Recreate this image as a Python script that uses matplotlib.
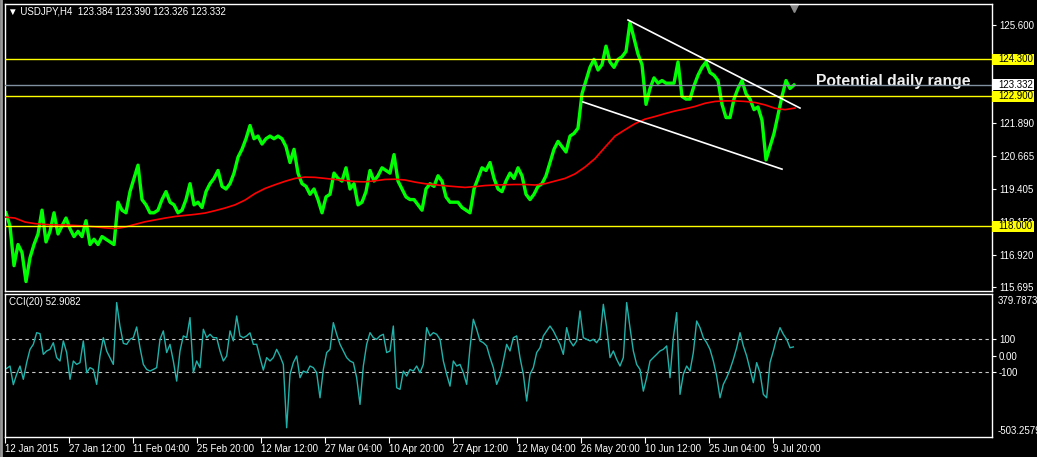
import numpy as np
import matplotlib
matplotlib.use("Agg")
import matplotlib.pyplot as plt
from matplotlib.transforms import blended_transform_factory
from matplotlib.lines import Line2D
from matplotlib.patches import Rectangle

W, H = 1037, 457
plt.rcParams['font.family'] = ['Liberation Sans', 'DejaVu Sans']

# ---- data: x is the bar number of the H4 chart (first bar = 6) ----
close_step = 4
close = [
    118.5, 118.0, 116.5, 117.3, 117.0, 115.9, 116.8, 117.3, 117.7, 118.6,
    117.4, 117.8, 118.5, 117.7, 118.0, 118.3, 117.9, 117.6, 117.8, 117.6,
    118.2, 117.3, 117.5, 117.3, 117.6, 117.5, 117.4, 117.3, 118.9, 118.6,
    118.5, 119.3, 119.8, 120.3, 119.0, 118.8, 118.5, 118.5, 118.6, 119.0,
    119.3, 118.9, 118.8, 118.5, 118.6, 119.0, 119.6, 118.8, 118.9, 118.7,
    119.3, 119.6, 119.8, 120.1, 119.5, 119.4, 119.6, 120.0, 120.6, 120.9,
    121.3, 121.8, 121.3, 121.4, 121.1, 121.3, 121.4, 121.3, 121.4, 121.3,
    121.0, 120.4, 120.9, 120.0, 119.6, 119.5, 119.2, 119.4, 119.0, 118.5,
    119.1, 119.2, 120.0, 119.8, 119.7, 120.2, 119.4, 119.6, 118.8, 118.9,
    119.3, 120.1, 119.7, 119.9, 120.2, 120.1, 120.0, 120.7, 119.7, 119.4,
    119.1, 119.0, 119.0, 118.8, 118.6, 119.4, 119.6, 119.5, 119.9, 119.7,
    119.1, 118.9, 118.9, 118.9, 118.7, 118.6, 118.5, 119.4, 119.8, 120.2,
    120.1, 120.4, 119.8, 119.4, 119.3, 119.7, 120.0, 119.8, 120.2, 119.9,
    119.2, 119.0, 119.2, 119.5, 119.6, 119.9, 120.4, 120.9, 121.2, 121.0,
    120.8, 121.4, 121.5, 121.7, 123.0, 123.5, 124.0, 124.3, 123.9, 124.1,
    124.8, 124.2, 124.0, 124.3, 124.4, 124.6, 125.7, 125.1, 124.5, 124.1,
    122.6, 123.2, 123.6, 123.4, 123.5, 123.4, 123.4, 123.4, 124.2, 122.9,
    122.8, 122.8, 123.3, 123.7, 124.0, 124.2, 123.8, 123.7, 123.5, 122.6,
    122.1, 122.1, 122.8, 123.2, 123.5, 123.0, 122.8, 122.4, 122.5, 122.0,
    120.5, 121.0, 121.5, 122.2, 122.9, 123.5, 123.2, 123.33,
]

ma_first, ma_step = 5, 10
ma = [
    118.34, 118.30, 118.15, 118.09, 118.06, 118.04, 118.04, 118.02, 118.00, 117.97,
    117.93, 117.90, 117.96, 118.06, 118.16, 118.23, 118.30, 118.36, 118.40, 118.44,
    118.49, 118.58, 118.68, 118.80, 118.98, 119.23, 119.42, 119.56, 119.69, 119.80,
    119.85, 119.84, 119.80, 119.76, 119.72, 119.68, 119.67, 119.71, 119.76, 119.77,
    119.74, 119.66, 119.60, 119.56, 119.52, 119.49, 119.46, 119.49, 119.53, 119.55,
    119.56, 119.57, 119.57, 119.55, 119.60, 119.70, 119.80, 119.97, 120.23, 120.55,
    120.98, 121.40, 121.64, 121.87, 122.04, 122.14, 122.25, 122.35, 122.43, 122.52,
    122.64, 122.71, 122.73, 122.73, 122.71, 122.67, 122.58, 122.45, 122.40, 122.46,
]

cci_first, cci_step = 20 / 3, 10 / 3
cci = [
    -80, -65, -180, -116, -65, -147, -44, 38, 69, 141,
    135, 7, 28, 38, 79, -13, -34, 90, 18, -147,
    -34, -55, -44, 90, -106, -75, -86, -178, -3, 110,
    28, -13, -55, 327, 180, 75, 69, 100, 110, 176,
    48, -55, -86, -96, -86, -75, 100, 152, 18, 69,
    -34, -158, 28, 121, 110, 234, -106, -34, -75, 162,
    110, 131, 110, 110, 28, -34, -3, 152, 90, 244,
    121, 110, 121, 140, 69, 69, -13, -90, -13, -34,
    -13, 38, -3, -55, -446, -116, -44, -3, -137, -96,
    -106, -65, -75, -106, -261, -86, 18, 38, 203, 131,
    69, 28, -13, -34, -44, -137, -302, -65, 69, 141,
    110, 100, 121, 131, 18, 28, 182, -199,
    -209, -96, -127, -86, -96, -65, -106, -55, 172, 121,
    141, 131, 100, -34, -116, -189, -34, -65, -55, -106,
    -178, 48, 224, 162, 90, 79, 59, -13, -75, -178,
    -127, -34, 69, 28, 110, 121, -13, -116, -281, -116,
    -75, 18, 48, 121, 152, 182, 152, 110, 69, 7,
    172, 90, 59, 90, 275, 110, 100, 90, 100, 79,
    110, 316, 172, -13, 28, -24, -65, -13, 327, 172,
    28, -55, -86, -220, -137, -34, -13, 7, 28, 38,
    59, -137, 110, 265, -240, -116, -65, -96, 18, 213,
    172, 110, 79, 38, -34, -127, -261, -178, -137, -86,
    -24, 48, 141, 59, -3, -86, -168, -44, -106, -240,
    -261, -44, 28, 110, 172, 131, 100, 48, 52.9082,
]

levels = [124.300, 122.900, 118.000]
bid = 123.332
trend_upper = ([628, 800], [125.79, 122.46])
trend_lower = ([583, 782], [122.69, 120.15])

price_ticks = [125.600, 121.890, 120.665, 119.405, 118.150, 116.920, 115.695]
cci_ticks = [100, 0, -100]
cci_tick_labels = ['100', '0.00', '-100']
cci_max, cci_min = 379.7873, -503.2579

date_labels = ['12 Jan 2015', '27 Jan 12:00', '11 Feb 04:00', '25 Feb 20:00',
               '12 Mar 12:00', '27 Mar 04:00', '10 Apr 20:00', '27 Apr 12:00',
               '12 May 04:00', '26 May 20:00', '10 Jun 12:00', '25 Jun 04:00',
               '9 Jul 20:00']
date_first, date_every = 5, 64

close_x = 6 + close_step * np.arange(len(close))
ma_x = ma_first + ma_step * np.arange(len(ma))
cci_x = cci_first + cci_step * np.arange(len(cci))
date_x = date_first + date_every * np.arange(len(date_labels))

# ---- figure ----
fig = plt.figure(figsize=(W / 100, H / 100), dpi=100, facecolor='black')
ax = fig.add_axes([5 / W, 1 - 291 / H, 987 / W, 287 / H], facecolor='black')
axc = fig.add_axes([5 / W, 1 - 437 / H, 987 / W, 143 / H], facecolor='black')
fig.add_artist(Line2D([1 / W, 1 / W], [0, 1], color='#9a9a9a', lw=2))

for a in (ax, axc):
    a.set_xlim(5, 992)
    for s in a.spines.values():
        s.set_color('white')
        s.set_linewidth(1)
    a.yaxis.tick_right()
    a.tick_params(axis='y', colors='white', length=3, width=0.8, pad=2,
                  labelsize=7)

# main price window
ax.set_ylim(115.543, 126.394)
ax.set_xticks([])
ax.set_yticks(price_ticks, [f'{v:.3f}' for v in price_ticks])

ax.plot(close_x, close, color='#00ff00', lw=2.4, zorder=2)
ax.plot(ma_x, ma, color='#ff0000', lw=1.2, zorder=3)
for lv in levels:
    ax.axhline(lv, color='#ffff00', lw=1, zorder=4)
ax.axhline(bid, color='#8190a0', lw=1, zorder=4)
ax.plot(*trend_upper, color='white', lw=1.2, zorder=5)
ax.plot(*trend_lower, color='white', lw=1.2, zorder=5)

# value boxes on the price scale
px = (ax.get_ylim()[1] - ax.get_ylim()[0]) / 287   # price per pixel
box_tr = blended_transform_factory(ax.transAxes, ax.transData)
for lv, fc in [(levels[0], '#ffff00'), (levels[1], '#ffff00'),
               (levels[2], '#ffff00'), (bid, 'white')]:
    ax.add_patch(Rectangle((1.0, lv - 5.5 * px), 42 / 987, 11 * px,
                           transform=box_tr, fc=fc, ec='none',
                           clip_on=False, zorder=6))
    ax.text(998, lv, f'{lv:.3f}', fontsize=7, color='black', ha='left',
            va='center', clip_on=False, zorder=7)

ax.text(816, 123.48, 'Potential daily range', fontsize=11.3,
        fontweight='bold', color='#f0f0f0', ha='left', va='center')
ax.text(3 / 987, 1 - 8 / 287, '\u25bc USDJPY,H4  123.384 123.390 123.326 123.332',
        transform=ax.transAxes, fontsize=7, color='white', ha='left',
        va='center')
ax.plot([close_x[-1]], [0.985], marker='v', ms=6, color='#8a8a8a',
        transform=blended_transform_factory(ax.transData, ax.transAxes),
        clip_on=False)

# CCI window
axc.set_ylim(cci_min, cci_max)
axc.set_yticks(cci_ticks, cci_tick_labels)
for lv in (100, -100):
    axc.axhline(lv, color='#c8c8c8', lw=0.8, ls=(0, (3, 3)))
axc.plot(cci_x, cci, color='#20b2aa', lw=1)
tr = blended_transform_factory(axc.transData, axc.transAxes)
axc.text(998, 1 - 7 / 143, f'{cci_max:.4f}', transform=tr, fontsize=7,
         color='white', ha='left', va='center', clip_on=False)
axc.text(998, 6 / 143, f'{cci_min:.4f}', transform=tr, fontsize=7,
         color='white', ha='left', va='center', clip_on=False)
axc.text(4 / 987, 1 - 8 / 143, 'CCI(20) 52.9082', transform=axc.transAxes,
         fontsize=7, color='white', ha='left', va='center')

axc.set_xticks(date_x, date_labels)
axc.tick_params(axis='x', colors='white', length=4, width=0.8, pad=1,
                labelsize=7)
for lbl in axc.get_xticklabels():
    lbl.set_ha('left')

fig.savefig('out.png', dpi=100, facecolor='black')
